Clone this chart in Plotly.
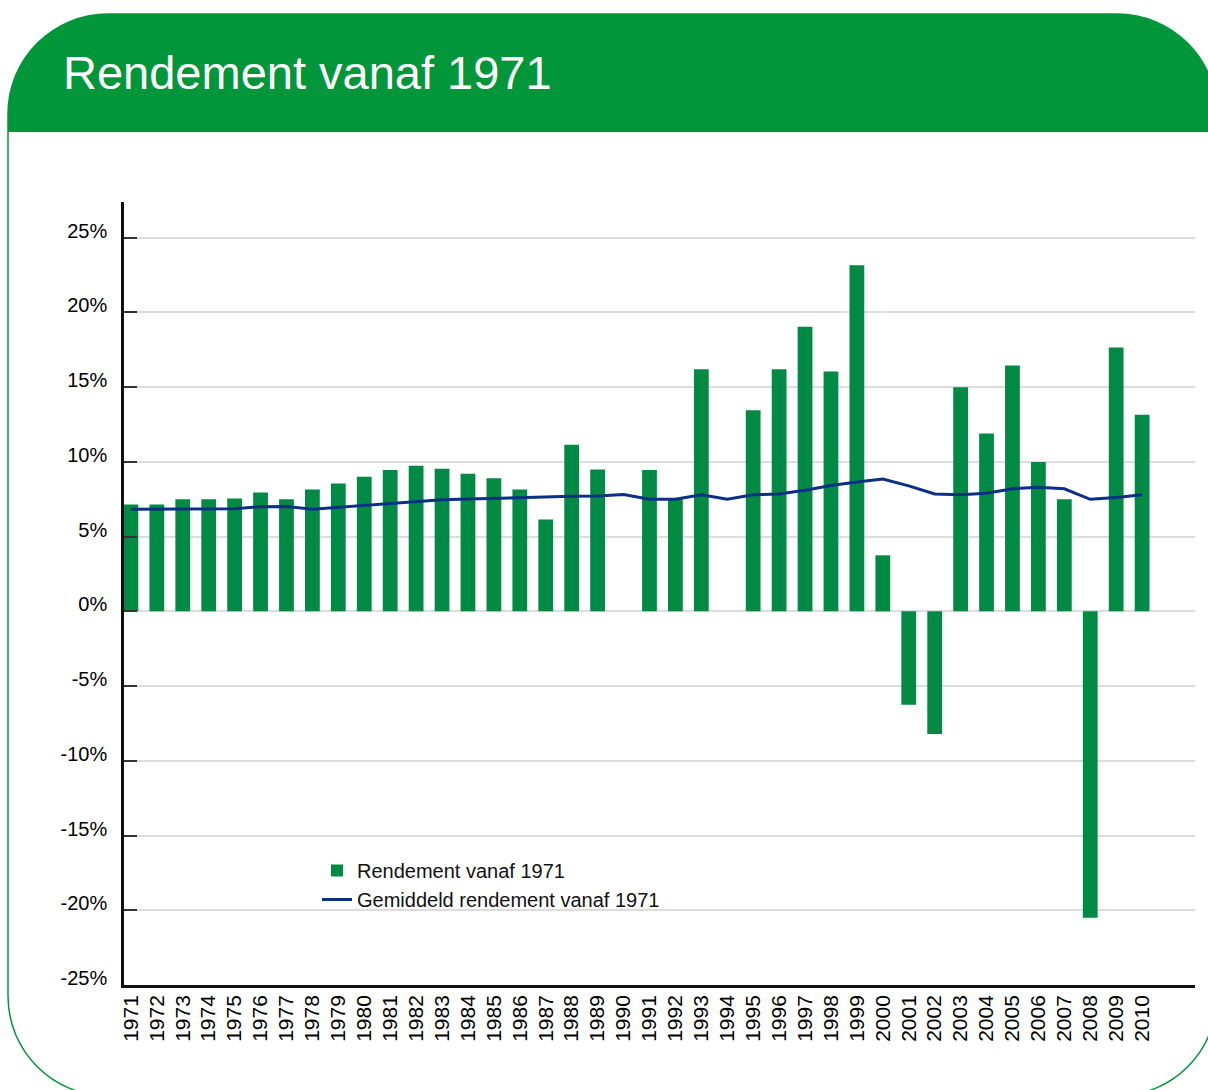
import plotly.graph_objects as go

# ---------------- data ----------------
years = [str(y) for y in range(1971, 2011)]
rendement = [7.15, 7.15, 7.5, 7.5, 7.55, 7.95, 7.5, 8.15, 8.55, 9.0,
             9.45, 9.75, 9.55, 9.2, 8.9, 8.15, 6.15, 11.15, 9.5, None,
             9.45, 7.5, 16.2, None, 13.45, 16.2, 19.05, 16.05, 23.15, 3.75,
             -6.25, -8.2, 15.0, 11.9, 16.45, 10.0, 7.5, -20.5, 17.65, 13.15]
gemiddeld = [6.84, 6.84, 6.84, 6.84, 6.86, 7.0, 7.02, 6.84, 6.97, 7.1,
             7.25, 7.38, 7.46, 7.52, 7.57, 7.62, 7.66, 7.7, 7.72, 7.82,
             7.5, 7.5, 7.8, 7.5, 7.8, 7.85, 8.1, 8.42, 8.65, 8.85,
             8.4, 7.85, 7.8, 7.9, 8.2, 8.3, 8.2, 7.5, 7.62, 7.8]
ytick_vals = [25, 20, 15, 10, 5, 0, -5, -10, -15, -20, -25]
ytick_text = ["25%", "20%", "15%", "10%", "5%", "0%", "-5%", "-10%", "-15%", "-20%", "-25%"]
title_text = "Rendement vanaf 1971"
name_bar = "Rendement vanaf 1971"
name_line = "Gemiddeld rendement vanaf 1971"

# ---------------- layout geometry ----------------
W, H = 1208, 1090
ML, MR, MT, MB = 124, 13, 202, 105
PW = W - ML - MR
PH = H - MT - MB


def px(x):
    return (x - ML) / PW


def py(y):
    return (H - MB - y) / PH


def path(cmds):
    out = []
    for c in cmds:
        if isinstance(c, str):
            out.append(c)
        else:
            out.append(f"{px(c[0]):.5f},{py(c[1]):.5f}")
    return " ".join(out)


GREEN_HDR = "#009639"
GREEN_BAR = "#008a44"
NAVY = "#0b2f85"
FONT_NARROW = "Liberation Sans Narrow, Arial Narrow, Liberation Sans, Arial, sans-serif"
FONT_TICK = "Liberation Sans, Arial, sans-serif"

L, T, R, B, r = 8, 14, 1217, 1096, 100
k = 0.5523 * r
Hh = 132

header = path(["M", (L, Hh), "L", (L, T + r), "C", (L, T + r - k), (L + r - k, T), (L + r, T),
               "L", (R - r, T), "C", (R - r + k, T), (R, T + r - k), (R, T + r),
               "L", (R, Hh), "Z"])
border = path(["M", (L + r, T), "L", (R - r, T), "C", (R - r + k, T), (R, T + r - k), (R, T + r),
               "L", (R, B - r), "C", (R, B - r + k), (R - r + k, B), (R - r, B),
               "L", (L + r, B), "C", (L + r - k, B), (L, B - r + k), (L, B - r),
               "L", (L, T + r), "C", (L, T + r - k), (L + r - k, T), (L + r, T), "Z"])

fig = go.Figure()
fig.add_trace(go.Bar(x=years, y=rendement, name=name_bar,
                     marker=dict(color=GREEN_BAR, line=dict(width=0))))
fig.add_trace(go.Scatter(x=years, y=gemiddeld, name=name_line, mode="lines",
                         line=dict(color=NAVY, width=3)))

fig.update_layout(
    width=W, height=H,
    margin=dict(l=ML, r=MR, t=MT, b=MB, pad=0),
    paper_bgcolor="white", plot_bgcolor="rgba(0,0,0,0)",
    bargap=0.43,
    showlegend=True,
    legend=dict(x=px(317), y=py(851), xanchor="left", yanchor="top",
                bgcolor="rgba(0,0,0,0)", traceorder="normal",
                font=dict(family=FONT_NARROW, size=20, color="#111111"),
                tracegroupgap=0, itemwidth=30),
    shapes=[
        dict(type="path", xref="paper", yref="paper", path=border,
             line=dict(color=GREEN_HDR, width=1.5), fillcolor="white", layer="below"),
        dict(type="path", xref="paper", yref="paper", path=header,
             line=dict(width=0), fillcolor=GREEN_HDR, layer="below"),
    ],
    annotations=[
        dict(text=title_text, xref="paper", yref="paper", x=px(61), y=py(73),
             xanchor="left", yanchor="middle", showarrow=False,
             font=dict(family=FONT_NARROW, size=47, color="white")),
    ],
)

fig.update_xaxes(
    type="category", range=[-0.266, 41.04],
    tickangle=-90, ticks="", showgrid=False,
    showline=True, linecolor="#111111", linewidth=2.5,
    tickfont=dict(family=FONT_TICK, size=21, color="#000000"),
    ticklabelstandoff=-1,
)
fig.update_yaxes(
    range=[-25, 27.39],
    tickvals=ytick_vals, ticktext=ytick_text,
    ticks="inside", ticklen=13, tickwidth=1.5, tickcolor="#333333",
    showgrid=True, gridcolor="#dddddd", gridwidth=1.5,
    zeroline=False,
    showline=True, linecolor="#111111", linewidth=2.5,
    tickfont=dict(family=FONT_TICK, size=20, color="#000000"),
    ticklabelstandoff=10, ticklabelshift=-7,
)

fig.write_html("out.html", config={"displayModeBar": False},
               post_script="document.body.style.margin='0';document.body.style.overflow='hidden';")
